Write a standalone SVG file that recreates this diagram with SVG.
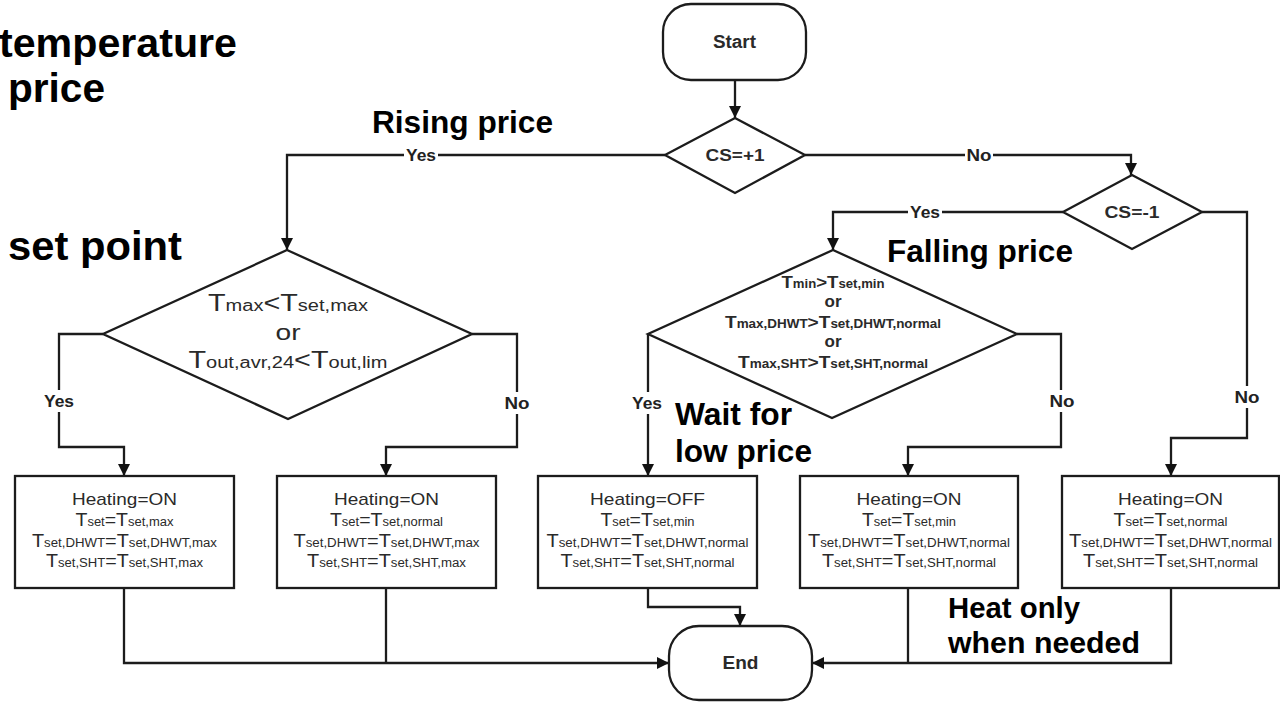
<svg xmlns="http://www.w3.org/2000/svg" width="1280" height="702" viewBox="0 0 1280 702">
<style>
.ln{fill:none;stroke:#1c1c1c;stroke-width:2.3}
.sh{fill:#fff;stroke:#1c1c1c;stroke-width:2.3}
.t{font-family:"Liberation Sans",Arial,sans-serif;fill:#2a2a2a;text-anchor:middle}
.b{font-weight:bold}
.m{font-size:18px}
.s{font-size:12px}
.bm{font-size:17px}
.bs{font-size:12px}
.dm{font-size:23px}
.ds{font-size:16px}
.big{font-family:"Liberation Sans",Arial,sans-serif;font-weight:bold;fill:#000}
.lbl{font-family:"Liberation Sans",Arial,sans-serif;font-weight:bold;font-size:16px;text-anchor:middle;fill:#222}
.bg{fill:#fff}
</style>
<defs>
<marker id="arr" viewBox="0 0 10 10" refX="10" refY="5" markerWidth="13" markerHeight="12" markerUnits="userSpaceOnUse" orient="auto">
<path d="M0,0 L10,5 L0,10 z" fill="#111"/>
</marker>
</defs>
<rect width="1280" height="702" fill="#fff"/>

<g id="connectors">
<path class="ln" d="M735,80 V118" marker-end="url(#arr)"/>
<path class="ln" d="M665,155 H287 V250" marker-end="url(#arr)"/>
<path class="ln" d="M805,155 H1131 V175" marker-end="url(#arr)"/>
<path class="ln" d="M1063,212 H833 V250" marker-end="url(#arr)"/>
<path class="ln" d="M1202,212 H1247 V438 H1171 V476" marker-end="url(#arr)"/>
<path class="ln" d="M103,334 H59 V447 H124 V476" marker-end="url(#arr)"/>
<path class="ln" d="M472,334 H517 V447 H386 V476" marker-end="url(#arr)"/>
<path class="ln" d="M648,334 V476" marker-end="url(#arr)"/>
<path class="ln" d="M1017,334 H1061 V447 H908 V476" marker-end="url(#arr)"/>
<path class="ln" d="M124,589 V663 H669" marker-end="url(#arr)"/>
<path class="ln" d="M386,589 V663"/>
<path class="ln" d="M648,589 V607 H740 V626" marker-end="url(#arr)"/>
<path class="ln" d="M908,589 V663"/>
<path class="ln" d="M1171,589 V663 H812" marker-end="url(#arr)"/>
<g id="edge-labels">
<rect class="bg" x="404" y="146" width="34" height="18"/><text class="lbl" x="421" y="161" textLength="30" lengthAdjust="spacingAndGlyphs">Yes</text>
<rect class="bg" x="965" y="146" width="28" height="18"/><text class="lbl" x="979" y="161" textLength="25" lengthAdjust="spacingAndGlyphs">No</text>
<rect class="bg" x="908" y="203" width="34" height="18"/><text class="lbl" x="925" y="218" textLength="30" lengthAdjust="spacingAndGlyphs">Yes</text>
<rect class="bg" x="1235" y="386" width="24" height="22"/><text class="lbl" x="1247" y="403" textLength="25" lengthAdjust="spacingAndGlyphs">No</text>
<rect class="bg" x="42" y="390" width="34" height="22"/><text class="lbl" x="59" y="407" textLength="30" lengthAdjust="spacingAndGlyphs">Yes</text>
<rect class="bg" x="505" y="392" width="24" height="22"/><text class="lbl" x="517" y="409" textLength="25" lengthAdjust="spacingAndGlyphs">No</text>
<rect class="bg" x="630" y="392" width="34" height="22"/><text class="lbl" x="647" y="409" textLength="30" lengthAdjust="spacingAndGlyphs">Yes</text>
<rect class="bg" x="1050" y="390" width="24" height="22"/><text class="lbl" x="1062" y="407" textLength="25" lengthAdjust="spacingAndGlyphs">No</text>
</g>
</g>

<g id="start">
<rect class="sh" x="663" y="4" width="143" height="76" rx="28"/>
<text class="t b" x="734.5" y="48" font-size="18" textLength="43" lengthAdjust="spacingAndGlyphs">Start</text>
</g>

<g id="cs-plus1">
<polygon class="sh" points="735,118 805,155 735,193 665,155"/>
<text class="t b" x="735" y="161" font-size="17" textLength="59" lengthAdjust="spacingAndGlyphs">CS=+1</text>
</g>

<g id="cs-minus1">
<polygon class="sh" points="1132,175 1202,212 1132,249 1063,212"/>
<text class="t b" x="1132" y="218" font-size="17" textLength="55" lengthAdjust="spacingAndGlyphs">CS=-1</text>
</g>

<g id="decision-rising">
<polygon class="sh" points="287,250 472,334 288,419 103,334"/>
<text class="t" x="288" y="311" textLength="160" lengthAdjust="spacingAndGlyphs"><tspan class="dm">T</tspan><tspan class="ds">max</tspan><tspan class="dm">&lt;T</tspan><tspan class="ds">set,max</tspan></text>
<text class="t" x="288" y="340" font-size="22" textLength="25" lengthAdjust="spacingAndGlyphs">or</text>
<text class="t" x="288" y="368" textLength="199" lengthAdjust="spacingAndGlyphs"><tspan class="dm">T</tspan><tspan class="ds">out,avr,24</tspan><tspan class="dm">&lt;T</tspan><tspan class="ds">out,lim</tspan></text>
</g>

<g id="decision-falling">
<polygon class="sh" points="833,250 1017,334 832,418 648,334"/>
<text class="t b" x="833" y="288" textLength="103" lengthAdjust="spacingAndGlyphs"><tspan class="bm">T</tspan><tspan class="bs">min</tspan><tspan class="bm">&gt;T</tspan><tspan class="bs">set,min</tspan></text>
<text class="t b" x="833" y="307" font-size="17">or</text>
<text class="t b" x="833" y="328" textLength="216" lengthAdjust="spacingAndGlyphs"><tspan class="bm">T</tspan><tspan class="bs">max,DHWT</tspan><tspan class="bm">&gt;T</tspan><tspan class="bs">set,DHWT,normal</tspan></text>
<text class="t b" x="833" y="347" font-size="17">or</text>
<text class="t b" x="833" y="368" textLength="190" lengthAdjust="spacingAndGlyphs"><tspan class="bm">T</tspan><tspan class="bs">max,SHT</tspan><tspan class="bm">&gt;T</tspan><tspan class="bs">set,SHT,normal</tspan></text>
</g>

<g id="box1">
<rect class="sh" x="15" y="476" width="219" height="112"/>
<text class="t" x="124.5" y="505" font-size="17" textLength="105" lengthAdjust="spacingAndGlyphs">Heating=ON</text>
<text class="t" x="124.5" y="526" textLength="98" lengthAdjust="spacingAndGlyphs"><tspan class="m">T</tspan><tspan class="s">set</tspan><tspan class="m">=T</tspan><tspan class="s">set,max</tspan></text>
<text class="t" x="124.5" y="547" textLength="185" lengthAdjust="spacingAndGlyphs"><tspan class="m">T</tspan><tspan class="s">set,DHWT</tspan><tspan class="m">=T</tspan><tspan class="s">set,DHWT,max</tspan></text>
<text class="t" x="124.5" y="567" textLength="157" lengthAdjust="spacingAndGlyphs"><tspan class="m">T</tspan><tspan class="s">set,SHT</tspan><tspan class="m">=T</tspan><tspan class="s">set,SHT,max</tspan></text>
</g>

<g id="box2">
<rect class="sh" x="277" y="476" width="219" height="112"/>
<text class="t" x="386.5" y="505" font-size="17" textLength="105" lengthAdjust="spacingAndGlyphs">Heating=ON</text>
<text class="t" x="386.5" y="526" textLength="113" lengthAdjust="spacingAndGlyphs"><tspan class="m">T</tspan><tspan class="s">set</tspan><tspan class="m">=T</tspan><tspan class="s">set,normal</tspan></text>
<text class="t" x="386.5" y="547" textLength="186" lengthAdjust="spacingAndGlyphs"><tspan class="m">T</tspan><tspan class="s">set,DHWT</tspan><tspan class="m">=T</tspan><tspan class="s">set,DHWT,max</tspan></text>
<text class="t" x="386.5" y="567" textLength="159" lengthAdjust="spacingAndGlyphs"><tspan class="m">T</tspan><tspan class="s">set,SHT</tspan><tspan class="m">=T</tspan><tspan class="s">set,SHT,max</tspan></text>
</g>

<g id="box3">
<rect class="sh" x="538" y="476" width="219" height="112"/>
<text class="t" x="647.5" y="505" font-size="17" textLength="115" lengthAdjust="spacingAndGlyphs">Heating=OFF</text>
<text class="t" x="647.5" y="526" textLength="94" lengthAdjust="spacingAndGlyphs"><tspan class="m">T</tspan><tspan class="s">set</tspan><tspan class="m">=T</tspan><tspan class="s">set,min</tspan></text>
<text class="t" x="647.5" y="547" textLength="202" lengthAdjust="spacingAndGlyphs"><tspan class="m">T</tspan><tspan class="s">set,DHWT</tspan><tspan class="m">=T</tspan><tspan class="s">set,DHWT,normal</tspan></text>
<text class="t" x="647.5" y="567" textLength="174" lengthAdjust="spacingAndGlyphs"><tspan class="m">T</tspan><tspan class="s">set,SHT</tspan><tspan class="m">=T</tspan><tspan class="s">set,SHT,normal</tspan></text>
</g>

<g id="box4">
<rect class="sh" x="800" y="476" width="218" height="112"/>
<text class="t" x="909" y="505" font-size="17" textLength="105" lengthAdjust="spacingAndGlyphs">Heating=ON</text>
<text class="t" x="909" y="526" textLength="94" lengthAdjust="spacingAndGlyphs"><tspan class="m">T</tspan><tspan class="s">set</tspan><tspan class="m">=T</tspan><tspan class="s">set,min</tspan></text>
<text class="t" x="909" y="547" textLength="202" lengthAdjust="spacingAndGlyphs"><tspan class="m">T</tspan><tspan class="s">set,DHWT</tspan><tspan class="m">=T</tspan><tspan class="s">set,DHWT,normal</tspan></text>
<text class="t" x="909" y="567" textLength="174" lengthAdjust="spacingAndGlyphs"><tspan class="m">T</tspan><tspan class="s">set,SHT</tspan><tspan class="m">=T</tspan><tspan class="s">set,SHT,normal</tspan></text>
</g>

<g id="box5">
<rect class="sh" x="1062" y="476" width="217" height="112"/>
<text class="t" x="1170.5" y="505" font-size="17" textLength="105" lengthAdjust="spacingAndGlyphs">Heating=ON</text>
<text class="t" x="1170.5" y="526" textLength="114" lengthAdjust="spacingAndGlyphs"><tspan class="m">T</tspan><tspan class="s">set</tspan><tspan class="m">=T</tspan><tspan class="s">set,normal</tspan></text>
<text class="t" x="1170.5" y="547" textLength="203" lengthAdjust="spacingAndGlyphs"><tspan class="m">T</tspan><tspan class="s">set,DHWT</tspan><tspan class="m">=T</tspan><tspan class="s">set,DHWT,normal</tspan></text>
<text class="t" x="1170.5" y="567" textLength="175" lengthAdjust="spacingAndGlyphs"><tspan class="m">T</tspan><tspan class="s">set,SHT</tspan><tspan class="m">=T</tspan><tspan class="s">set,SHT,normal</tspan></text>
</g>

<g id="end">
<rect class="sh" x="669" y="626" width="143" height="74" rx="30"/>
<text class="t b" x="740.5" y="669" font-size="18" textLength="36" lengthAdjust="spacingAndGlyphs">End</text>
</g>

<g id="annotations">
<text class="big" x="-1" y="57" font-size="40" textLength="238" lengthAdjust="spacingAndGlyphs">temperature</text>
<text class="big" x="8" y="102" font-size="40" textLength="97" lengthAdjust="spacingAndGlyphs">price</text>
<text class="big" x="8" y="260" font-size="40" textLength="174" lengthAdjust="spacingAndGlyphs">set point</text>
<text class="big" x="372" y="133" font-size="31" textLength="181" lengthAdjust="spacingAndGlyphs">Rising price</text>
<text class="big" x="887" y="262" font-size="31" textLength="186" lengthAdjust="spacingAndGlyphs">Falling price</text>
<text class="big" x="675" y="425" font-size="31" textLength="117" lengthAdjust="spacingAndGlyphs">Wait for</text>
<text class="big" x="675" y="462" font-size="31" textLength="137" lengthAdjust="spacingAndGlyphs">low price</text>
<text class="big" x="948" y="618" font-size="30" textLength="132" lengthAdjust="spacingAndGlyphs">Heat only</text>
<text class="big" x="948" y="653" font-size="30" textLength="192" lengthAdjust="spacingAndGlyphs">when needed</text>
</g>
</svg>
